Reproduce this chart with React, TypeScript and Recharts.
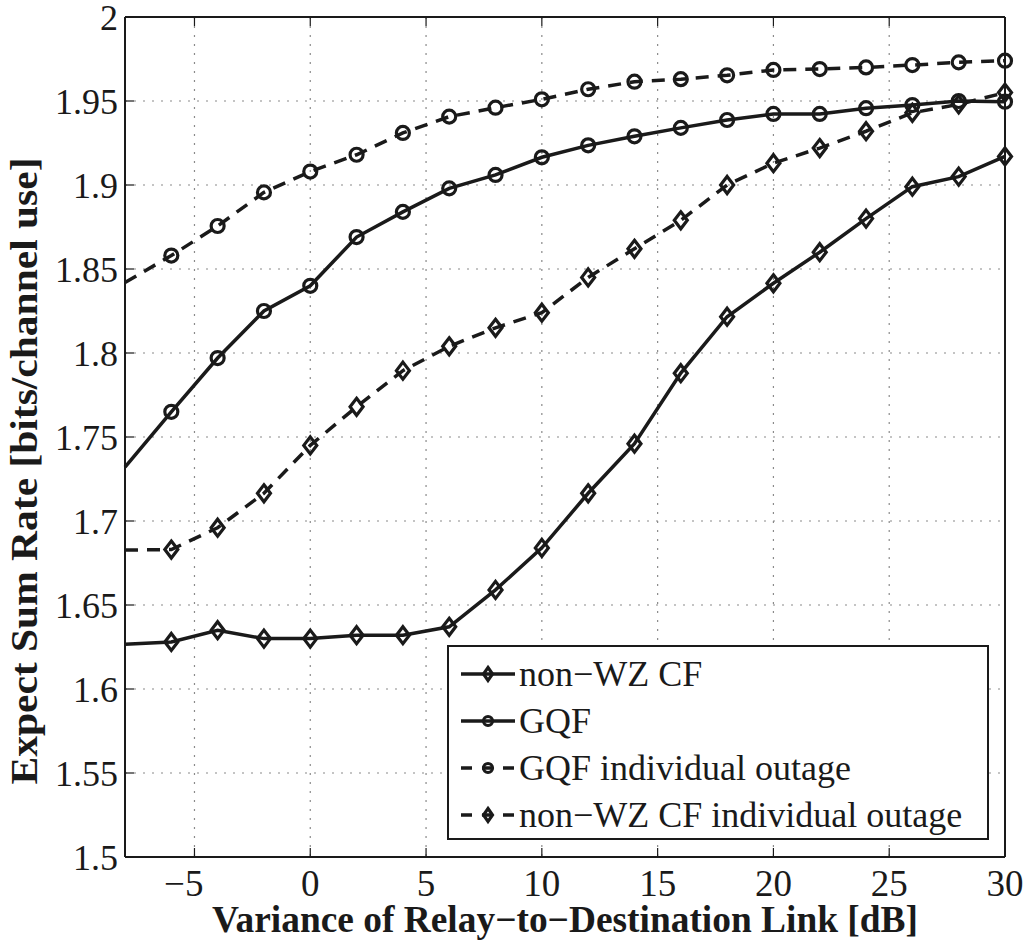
import { LineChart, Line, XAxis, YAxis, CartesianGrid, Legend } from "recharts";

// relay-to-destination link variance [dB]
const snrDb = [-8, -6, -4, -2, 0, 2, 4, 6, 8, 10, 12, 14, 16, 18, 20, 22, 24, 26, 28, 30];

const nonWzCf = [1.6266, 1.628, 1.635, 1.630, 1.630, 1.632, 1.632, 1.637, 1.659, 1.684, 1.7165, 1.746, 1.788, 1.8216, 1.8415, 1.860, 1.880, 1.899, 1.905, 1.917];
const gqf = [1.732, 1.765, 1.797, 1.825, 1.840, 1.869, 1.884, 1.898, 1.906, 1.9165, 1.9236, 1.929, 1.934, 1.9387, 1.9423, 1.9423, 1.9457, 1.9476, 1.950, 1.9496];
const gqfOutage = [1.842, 1.858, 1.8756, 1.8956, 1.908, 1.918, 1.931, 1.9407, 1.946, 1.951, 1.957, 1.9615, 1.963, 1.9653, 1.9685, 1.969, 1.970, 1.9714, 1.973, 1.974];
const nonWzCfOutage = [1.6827, 1.683, 1.696, 1.7165, 1.745, 1.768, 1.7895, 1.804, 1.815, 1.824, 1.845, 1.862, 1.879, 1.900, 1.913, 1.922, 1.932, 1.943, 1.948, 1.955];

const xTicks = [-5, 0, 5, 10, 15, 20, 25, 30];
const yTicks = [1.5, 1.55, 1.6, 1.65, 1.7, 1.75, 1.8, 1.85, 1.9, 1.95, 2];

const FONT = "Liberation Serif";
const INK = "#1a1a1a";

const chartData = snrDb.map((x, i) => ({
  x,
  nonWzCf: nonWzCf[i],
  gqf: gqf[i],
  gqfOutage: gqfOutage[i],
  nonWzCfOutage: nonWzCfOutage[i],
}));

const series = [
  { key: "nonWzCf", name: "non\u2212WZ CF", marker: "diamond", dashed: false },
  { key: "gqf", name: "GQF", marker: "circle", dashed: false },
  { key: "gqfOutage", name: "GQF individual outage", marker: "circle", dashed: true },
  { key: "nonWzCfOutage", name: "non\u2212WZ CF individual outage", marker: "diamond", dashed: true },
];

function Marker({ kind, cx, cy, small }: { kind: string; cx: number; cy: number; small?: boolean }) {
  if (kind === "circle") {
    return <circle cx={cx} cy={cy} r={small ? 4.5 : 6.5} fill="none" stroke={INK} strokeWidth={3.2} />;
  }
  const w = small ? 4.5 : 6.5;
  const h = small ? 6.5 : 8.5;
  return (
    <path
      d={`M${cx},${cy - h} L${cx + w},${cy} L${cx},${cy + h} L${cx - w},${cy} Z`}
      fill="none"
      stroke={INK}
      strokeWidth={3.2}
    />
  );
}

const makeDot = (kind: string) => (props: any) => {
  const { cx, cy, index, payload } = props;
  if (payload.x === snrDb[0]) return <g key={`dot-${kind}-${index}`} />;
  return (
    <g key={`dot-${kind}-${index}`}>
      <Marker kind={kind} cx={cx} cy={cy} />
    </g>
  );
};

const BottomTick = ({ x, y, payload }: any) => {
  const v = payload.value;
  return (
    <g>
      <line x1={x} x2={x} y1={y} y2={y - 9} stroke={INK} strokeWidth={1.2} />
      <text
        x={v < 0 ? x + 9 : x}
        y={y + 39}
        textAnchor={v < 0 ? "end" : "middle"}
        fontSize={37}
        fontFamily={FONT}
        fill={INK}
      >
        {v < 0 ? `\u2212${Math.abs(v)}` : v}
      </text>
    </g>
  );
};

const LeftTick = ({ x, y, payload }: any) => (
  <g>
    <line x1={x} x2={x + 9} y1={y} y2={y} stroke={INK} strokeWidth={1.2} />
    <text x={x - 7} y={y + 13} textAnchor="end" fontSize={36} fontFamily={FONT} fill={INK}>
      {payload.value}
    </text>
  </g>
);

const TopTick = ({ x, y }: any) => <line x1={x} x2={x} y1={y} y2={y + 9} stroke={INK} strokeWidth={1.2} />;
const RightTick = ({ x, y }: any) => <line x1={x} x2={x - 9} y1={y} y2={y} stroke={INK} strokeWidth={1.2} />;

function LegendBox() {
  return (
    <div
      style={{
        border: `2px solid ${INK}`,
        background: "#fff",
        boxSizing: "border-box",
        width: "100%",
        height: "100%",
        paddingTop: 3,
      }}
    >
      {series.map((s) => (
        <div key={s.key} style={{ display: "flex", alignItems: "center", height: 47 }}>
          <svg width={66} height={24} style={{ marginLeft: 10, flex: "none" }}>
            <line
              x1={2}
              x2={56}
              y1={12}
              y2={12}
              stroke={INK}
              strokeWidth={3.5}
              strokeDasharray={s.dashed ? "11 10" : undefined}
            />
            <Marker kind={s.marker} cx={29} cy={12} small />
          </svg>
          <span style={{ fontFamily: FONT, fontSize: 36, color: INK, marginLeft: -6, lineHeight: 1, whiteSpace: "nowrap" }}>
            {s.name}
          </span>
        </div>
      ))}
    </div>
  );
}

export default function App() {
  return (
    <div style={{ position: "absolute", left: 0, top: 0, width: 1027, height: 942, background: "#fff" }}>
      <LineChart width={1027} height={942} data={chartData} margin={{ top: 0, right: 0, left: 0, bottom: 0 }}>
        <CartesianGrid stroke="#8a8a8a" strokeDasharray="2 7" strokeWidth={1.2} />
        <XAxis
          dataKey="x"
          type="number"
          domain={[-8, 30]}
          ticks={xTicks}
          height={85}
          tickSize={0}
          tickMargin={0}
          tickLine={false}
          tick={BottomTick}
          axisLine={{ stroke: INK, strokeWidth: 2 }}
          label={() => (
            <text
              x={565}
              y={932}
              textAnchor="middle"
              fontSize={37}
              fontWeight="bold"
              fontFamily={FONT}
              fill={INK}
              textLength={706}
              lengthAdjust="spacingAndGlyphs"
            >
              Variance of Relay{"\u2212"}to{"\u2212"}Destination Link [dB]
            </text>
          )}
        />
        <XAxis
          xAxisId="top"
          orientation="top"
          dataKey="x"
          type="number"
          domain={[-8, 30]}
          ticks={xTicks}
          height={17}
          tickSize={0}
          tickMargin={0}
          tickLine={false}
          tick={TopTick}
          axisLine={{ stroke: INK, strokeWidth: 2 }}
        />
        <YAxis
          type="number"
          domain={[1.5, 2]}
          ticks={yTicks}
          width={125}
          tickSize={0}
          tickMargin={0}
          tickLine={false}
          tick={LeftTick}
          axisLine={{ stroke: INK, strokeWidth: 2 }}
          label={() => (
            <text
              x={37}
              y={471}
              transform="rotate(-90, 37, 471)"
              textAnchor="middle"
              fontSize={37}
              fontWeight="bold"
              fontFamily={FONT}
              fill={INK}
              textLength={627}
              lengthAdjust="spacingAndGlyphs"
            >
              Expect Sum Rate [bits/channel use]
            </text>
          )}
        />
        <YAxis
          yAxisId="right"
          orientation="right"
          type="number"
          domain={[1.5, 2]}
          ticks={yTicks}
          width={22}
          tickSize={0}
          tickMargin={0}
          tickLine={false}
          tick={RightTick}
          axisLine={{ stroke: INK, strokeWidth: 2 }}
        />
        {series.map((s) => (
          <Line
            key={s.key}
            type="linear"
            dataKey={s.key}
            name={s.name}
            stroke={INK}
            strokeWidth={3.5}
            strokeDasharray={s.dashed ? "13 9" : undefined}
            dot={makeDot(s.marker)}
            activeDot={false}
            isAnimationActive={false}
          />
        ))}
        <Legend
          layout="horizontal"
          verticalAlign="middle"
          align="center"
          content={() => <LegendBox />}
          wrapperStyle={{ left: 447, top: 645, width: 542, height: 195 }}
        />
      </LineChart>
    </div>
  );
}
